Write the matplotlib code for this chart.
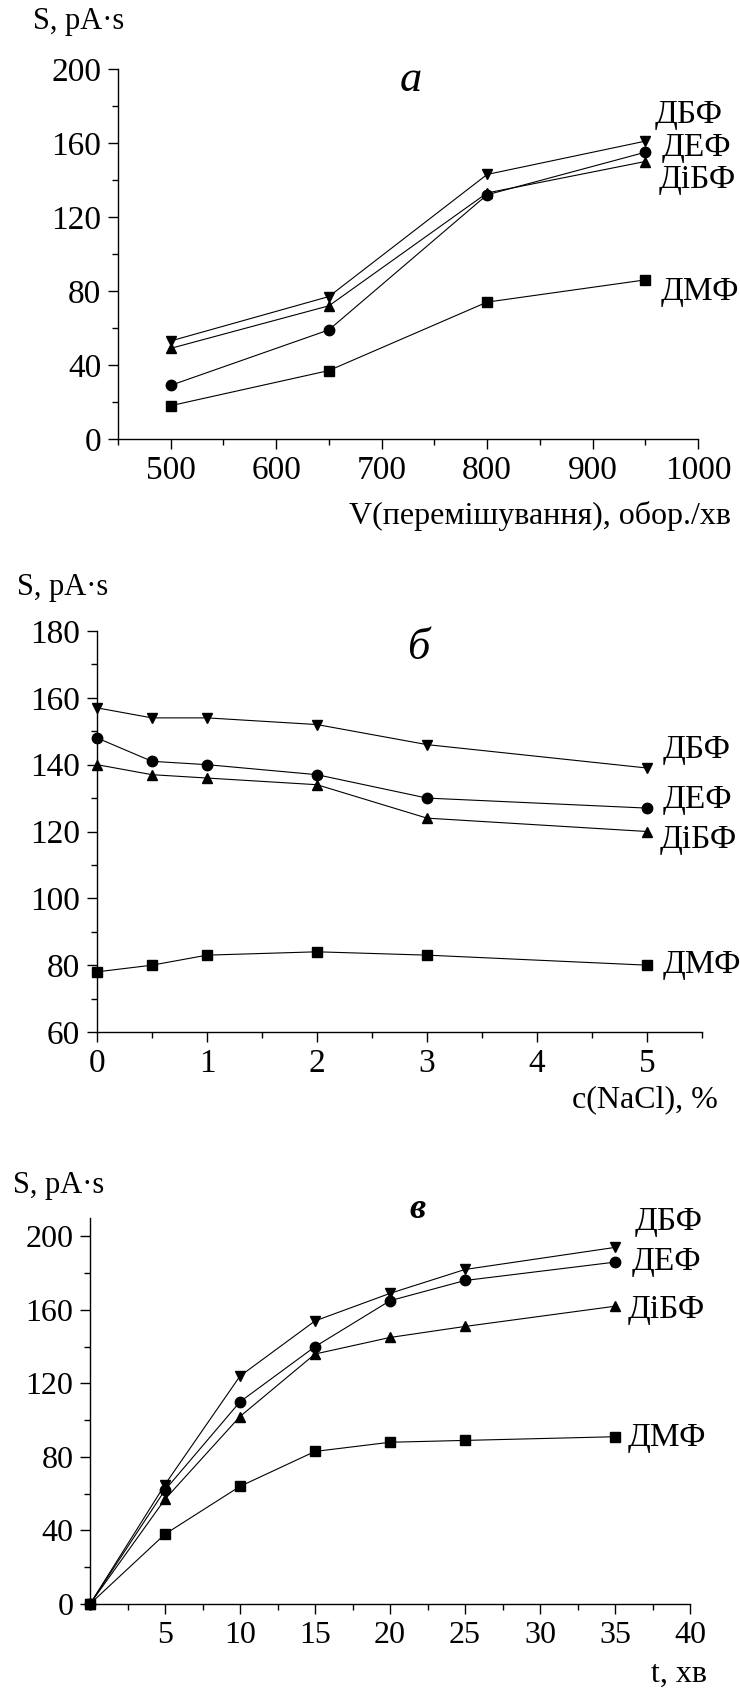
import matplotlib
matplotlib.use('Agg')
import matplotlib.pyplot as plt
from matplotlib.ticker import MultipleLocator

plt.rcParams['font.family'] = ['Liberation Serif', 'DejaVu Serif']

names = ['ДБФ', 'ДЕФ', 'ДіБФ', 'ДМФ']
markers = ['v', 'o', '^', 's']

# panel a: stirring speed
v_speed = [500, 650, 800, 950]
a_dbf = [53, 77, 143, 161]
a_def = [29, 59, 132, 155]
a_dibf = [49, 72, 133, 150]
a_dmf = [18, 37, 74, 86]

# panel b: NaCl concentration
c_nacl = [0, 0.5, 1, 2, 3, 5]
b_dbf = [157, 154, 154, 152, 146, 139]
b_def = [148, 141, 140, 137, 130, 127]
b_dibf = [140, 137, 136, 134, 124, 120]
b_dmf = [78, 80, 83, 84, 83, 80]

# panel c: extraction time
t_min = [0, 5, 10, 15, 20, 25, 35]
c_dbf = [0, 65, 124, 154, 169, 182, 194]
c_def = [0, 62, 110, 140, 165, 176, 186]
c_dibf = [0, 57, 102, 136, 145, 151, 162]
c_dmf = [0, 38, 64, 83, 88, 89, 91]

W, H = 740, 1688
fig = plt.figure(figsize=(W / 100, H / 100), dpi=100)


def box(l, r, t, b):
    return [l / W, 1 - b / H, (r - l) / W, (b - t) / H]


def style(ax, fs):
    for s in ['top', 'right']:
        ax.spines[s].set_visible(False)
    for s in ['left', 'bottom']:
        ax.spines[s].set_linewidth(1.0)
    ax.tick_params(which='major', direction='out', length=7, width=1, labelsize=fs, pad=5)
    ax.tick_params(which='minor', direction='out', length=4, width=1)


def draw(ax, x, series):
    for ys, m in zip(series, markers):
        ax.plot(x, ys, color='black', lw=0.8, marker=m, ms=7.5, clip_on=False, zorder=3)


def ftext(x, y, s, size, ha='left', **kw):
    fig.text(x / W, 1 - y / H, s, fontsize=size, va='center', ha=ha, **kw)


# ---- a ----
ax1 = fig.add_axes(box(118, 698, 69, 439))
draw(ax1, v_speed, [a_dbf, a_def, a_dibf, a_dmf])
ax1.set_xlim(450, 1000)
ax1.set_ylim(0, 200)
ax1.xaxis.set_major_locator(MultipleLocator(100))
ax1.xaxis.set_minor_locator(MultipleLocator(50))
ax1.yaxis.set_major_locator(MultipleLocator(40))
ax1.yaxis.set_minor_locator(MultipleLocator(20))
style(ax1, 24)
ftext(33, 22, 'S, pA·s', 22)
ftext(411, 80, 'a', 32, ha='center', style='italic')
ftext(731, 516, 'V(перемішування), обор./хв', 23, ha='right')
ftext(655, 115, 'ДБФ', 24)
ftext(662, 148, 'ДЕФ', 24)
ftext(659, 180, 'ДіБФ', 24)
ftext(661, 292, 'ДМФ', 24)

# ---- б ----
ax2 = fig.add_axes(box(97, 702, 631, 1032))
draw(ax2, c_nacl, [b_dbf, b_def, b_dibf, b_dmf])
ax2.set_xlim(0, 5.5)
ax2.set_ylim(60, 180)
ax2.xaxis.set_major_locator(MultipleLocator(1))
ax2.xaxis.set_minor_locator(MultipleLocator(0.5))
ax2.yaxis.set_major_locator(MultipleLocator(20))
ax2.yaxis.set_minor_locator(MultipleLocator(10))
style(ax2, 24)
ftext(17, 588, 'S, pA·s', 22)
ftext(418, 648, 'б', 32, ha='center', style='italic')
ftext(718, 1100, 'c(NaCl), %', 23, ha='right')
ftext(663, 750, 'ДБФ', 24)
ftext(663, 800, 'ДЕФ', 24)
ftext(660, 840, 'ДіБФ', 24)
ftext(663, 965, 'ДМФ', 24)

# ---- в ----
ax3 = fig.add_axes(box(90, 690, 1218, 1604))
draw(ax3, t_min, [c_dbf, c_def, c_dibf, c_dmf])
ax3.set_xlim(0, 40)
ax3.set_ylim(0, 210)
ax3.set_xticks([5, 10, 15, 20, 25, 30, 35, 40])
ax3.xaxis.set_minor_locator(MultipleLocator(2.5))
ax3.set_yticks([0, 40, 80, 120, 160, 200])
ax3.yaxis.set_minor_locator(MultipleLocator(20))
style(ax3, 23)
ftext(13, 1185, 'S, pA·s', 22)
ftext(417, 1210, 'в', 26, ha='center', style='italic', weight='bold')
ftext(707, 1674, 't, хв', 23, ha='right')
ftext(635, 1222, 'ДБФ', 24)
ftext(632, 1262, 'ДЕФ', 24)
ftext(628, 1310, 'ДіБФ', 24)
ftext(628, 1438, 'ДМФ', 24)

fig.savefig('out.png', dpi=100)
